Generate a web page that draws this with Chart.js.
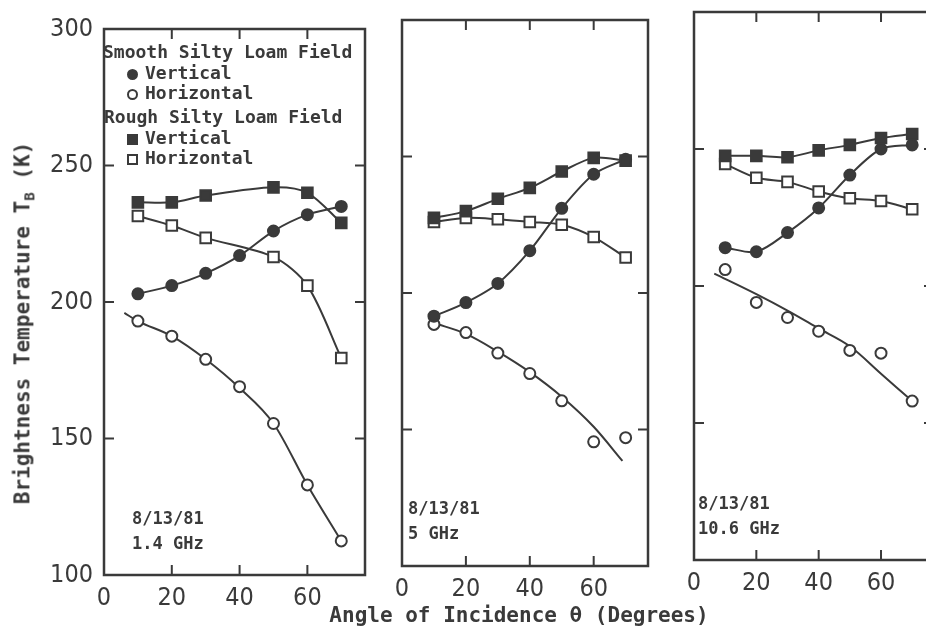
<!DOCTYPE html>
<html lang="en">
<head>
<meta charset="UTF-8">
<title>Brightness Temperature vs Angle of Incidence</title>
<script src="https://cdn.jsdelivr.net/npm/chart.js"></script>
<style>
    html, body { margin: 0; padding: 0; background: #fff; overflow: hidden; }
    body { width: 926px; height: 636px; position: relative; font-family: "DejaVu Sans Mono", monospace; color: #3a3a3a; }
    canvas { position: absolute; top: 0; }
    .txt { position: absolute; white-space: nowrap; font-weight: bold; line-height: 20px; }
    .lg { font-size: 18px; }
    .note { font-size: 17px; line-height: 25px; }
    .mk { display: inline-block; width: 11px; height: 11px; border: 2px solid #3a3a3a; box-sizing: border-box; margin-right: 7px; vertical-align: -1px; background: #fff; }
    .dot { border-radius: 50%; }
    .fill { background: #3a3a3a; }
    #ytitle { left: 26px; top: 323px; font-size: 21px; transform: translate(-50%, -50%) rotate(-90deg); }
    #ytitle sub { font-size: 14px; }
    #xtitle { left: 519px; top: 615px; font-size: 21px; transform: translate(-50%, -50%); }
</style>
</head>
<body>

<canvas id="p1" width="390" height="636" style="left:0px"></canvas>
<canvas id="p2" width="300" height="636" style="left:370px"></canvas>
<canvas id="p3" width="300" height="636" style="left:650px"></canvas>

<div class="txt lg" style="left:103px; top:42px">Smooth Silty Loam Field</div>
<div class="txt lg" style="left:127px; top:63px"><span class="mk dot fill"></span>Vertical</div>
<div class="txt lg" style="left:127px; top:83px"><span class="mk dot"></span>Horizontal</div>
<div class="txt lg" style="left:104px; top:107px">Rough Silty Loam Field</div>
<div class="txt lg" style="left:127px; top:128px"><span class="mk fill"></span>Vertical</div>
<div class="txt lg" style="left:127px; top:148px"><span class="mk"></span>Horizontal</div>

<div class="txt note" style="left:132px; top:506px">8/13/81<br>1.4 GHz</div>
<div class="txt note" style="left:408px; top:496px">8/13/81<br>5 GHz</div>
<div class="txt note" style="left:698px; top:491px">8/13/81<br>10.6 GHz</div>

<div class="txt" id="ytitle">Brightness Temperature T<sub>B</sub> (K)</div>
<div class="txt" id="xtitle">Angle of Incidence θ (Degrees)</div>

<script>
    // angles of incidence (degrees)
    const angles = [10, 20, 30, 40, 50, 60, 70];
    const anglesRough14 = [10, 20, 30, 50, 60, 70]; // no 40 deg point at 1.4 GHz

    // 1.4 GHz
    const smoothV14 = [203, 206, 210.5, 217, 226, 232, 235];
    const smoothH14 = [193, 187.5, 179, 169, 155.5, 133, 112.5];
    const roughV14 = [236.5, 236.5, 239, 242, 240, 229];
    const roughH14 = [231.5, 228, 223.5, 216.5, 206, 179.5];
    const fitAnglesH14 = [6, 10, 20, 30, 40, 50, 60, 70];
    const fitSmoothH14 = [196, 193, 187.5, 179, 168.5, 155.5, 133, 112.5];

    // 5 GHz
    const smoothV5 = [191.5, 196.5, 203.5, 215.5, 231, 243.5, 249];
    const smoothH5 = [188.5, 185.5, 178, 170.5, 160.5, 145.5, 147];
    const roughV5 = [227.5, 230, 234.5, 238.5, 244.5, 249.5, 248.5];
    const roughH5 = [226, 227.5, 227, 226, 225, 220.5, 213];
    const fitAnglesH5 = [10, 20, 30, 40, 50, 60, 69];
    const fitSmoothH5 = [189, 185, 178.5, 171, 162, 151, 138.5];

    // 10.6 GHz
    const smoothV106 = [214, 212.5, 219.5, 228.5, 240.5, 250, 251.5];
    const smoothH106 = [206, 194, 188.5, 183.5, 176.5, 175.5, 158];
    const roughV106 = [247.5, 247.5, 247, 249.5, 251.5, 254, 255.5];
    const roughH106 = [244.5, 239.5, 238, 234.5, 232, 231, 228];
    const fitAnglesH106 = [6.5, 20, 30, 40, 50, 60, 70];
    const fitSmoothH106 = [204.5, 197, 191, 184.5, 178, 168, 158];

    const yTicks = [100, 150, 200, 250, 300];
    const xTicks = [0, 20, 40, 60];

    const ink = '#3a3a3a';
    const tickFont = { family: '"Liberation Sans Narrow", "DejaVu Sans Condensed", "DejaVu Sans", sans-serif', size: 25 };

    function pts(xs, ys) {
        return xs.map((x, i) => ({ x: x, y: ys[i] }));
    }

    function marks(xs, ys, style, filled, line) {
        return {
            data: pts(xs, ys),
            showLine: line,
            tension: 0.3,
            borderColor: ink,
            borderWidth: 2,
            pointStyle: style,
            pointRadius: style === 'rect' ? 7.5 : 5.5,
            pointBorderWidth: 2,
            pointBorderColor: ink,
            pointBackgroundColor: filled ? ink : '#fff'
        };
    }

    function fit(xs, ys) {
        return {
            data: pts(xs, ys),
            showLine: true,
            cubicInterpolationMode: 'monotone',
            borderColor: ink,
            borderWidth: 2,
            pointRadius: 0
        };
    }

    // frame round the plot and short inward tick marks on all four sides
    const frameTicks = {
        id: 'frameTicks',
        afterDatasetsDraw(chart) {
            const { ctx, chartArea: a, scales: { x, y } } = chart;
            ctx.save();
            ctx.strokeStyle = ink;
            ctx.lineWidth = 2.5;
            ctx.strokeRect(a.left, a.top, a.right - a.left, a.bottom - a.top);
            ctx.lineWidth = 2;
            ctx.beginPath();
            x.ticks.forEach(t => {
                if (t.value <= x.min || t.value >= x.max) return;
                const px = x.getPixelForValue(t.value);
                ctx.moveTo(px, a.bottom); ctx.lineTo(px, a.bottom - 10);
                ctx.moveTo(px, a.top); ctx.lineTo(px, a.top + 10);
            });
            y.ticks.forEach(t => {
                if (t.value <= y.min || t.value >= y.max) return;
                const py = y.getPixelForValue(t.value);
                ctx.moveTo(a.left, py); ctx.lineTo(a.left + 10, py);
                ctx.moveTo(a.right, py); ctx.lineTo(a.right - 10, py);
            });
            ctx.stroke();
            ctx.restore();
        }
    };

    function panel(id, datasets, box, showY) {
        const ctx = document.getElementById(id).getContext('2d');
        new Chart(ctx, {
            type: 'scatter',
            data: { datasets: datasets },
            options: {
                responsive: false,
                animation: false,
                devicePixelRatio: 1,
                layout: { padding: { left: showY ? 0 : box.left, right: box.right, top: box.top, bottom: box.bottom } },
                plugins: { legend: { display: false }, tooltip: { enabled: false } },
                scales: {
                    x: {
                        type: 'linear', min: 0, max: 77,
                        afterBuildTicks: s => { s.ticks = xTicks.map(v => ({ value: v })); },
                        afterFit: s => { s.height = 40; },
                        grid: { display: false, drawTicks: false },
                        border: { display: false },
                        ticks: { color: ink, font: tickFont, padding: 8, maxRotation: 0 }
                    },
                    y: {
                        type: 'linear', min: 100, max: 300,
                        display: showY,
                        afterBuildTicks: s => { s.ticks = yTicks.map(v => ({ value: v })); },
                        afterFit: s => { s.width = box.left; },
                        grid: { display: false, drawTicks: false },
                        border: { display: false },
                        ticks: { color: ink, font: tickFont, padding: 11 }
                    }
                }
            },
            plugins: [frameTicks]
        });
    }

    // canvas-relative plot boxes
    panel('p1', [
        marks(angles, smoothV14, 'circle', true, true),
        marks(angles, smoothH14, 'circle', false, false),
        fit(fitAnglesH14, fitSmoothH14),
        marks(anglesRough14, roughV14, 'rect', true, true),
        marks(anglesRough14, roughH14, 'rect', false, true)
    ], { left: 104, right: 25, top: 29, bottom: 636 - 575 - 40 }, true);

    panel('p2', [
        marks(angles, roughV5, 'rect', true, true),
        marks(angles, smoothV5, 'circle', true, true),
        marks(angles, smoothH5, 'circle', false, false),
        fit(fitAnglesH5, fitSmoothH5),
        marks(angles, roughH5, 'rect', false, true)
    ], { left: 16, right: 22, top: 20, bottom: 636 - 566 - 40 }, false);

    panel('p3', [
        marks(angles, roughV106, 'rect', true, true),
        marks(angles, smoothV106, 'circle', true, true),
        marks(angles, smoothH106, 'circle', false, false),
        fit(fitAnglesH106, fitSmoothH106),
        marks(angles, roughH106, 'rect', false, true)
    ], { left: 22, right: 16, top: 12, bottom: 636 - 560 - 40 }, false);
</script>
</body>
</html>
